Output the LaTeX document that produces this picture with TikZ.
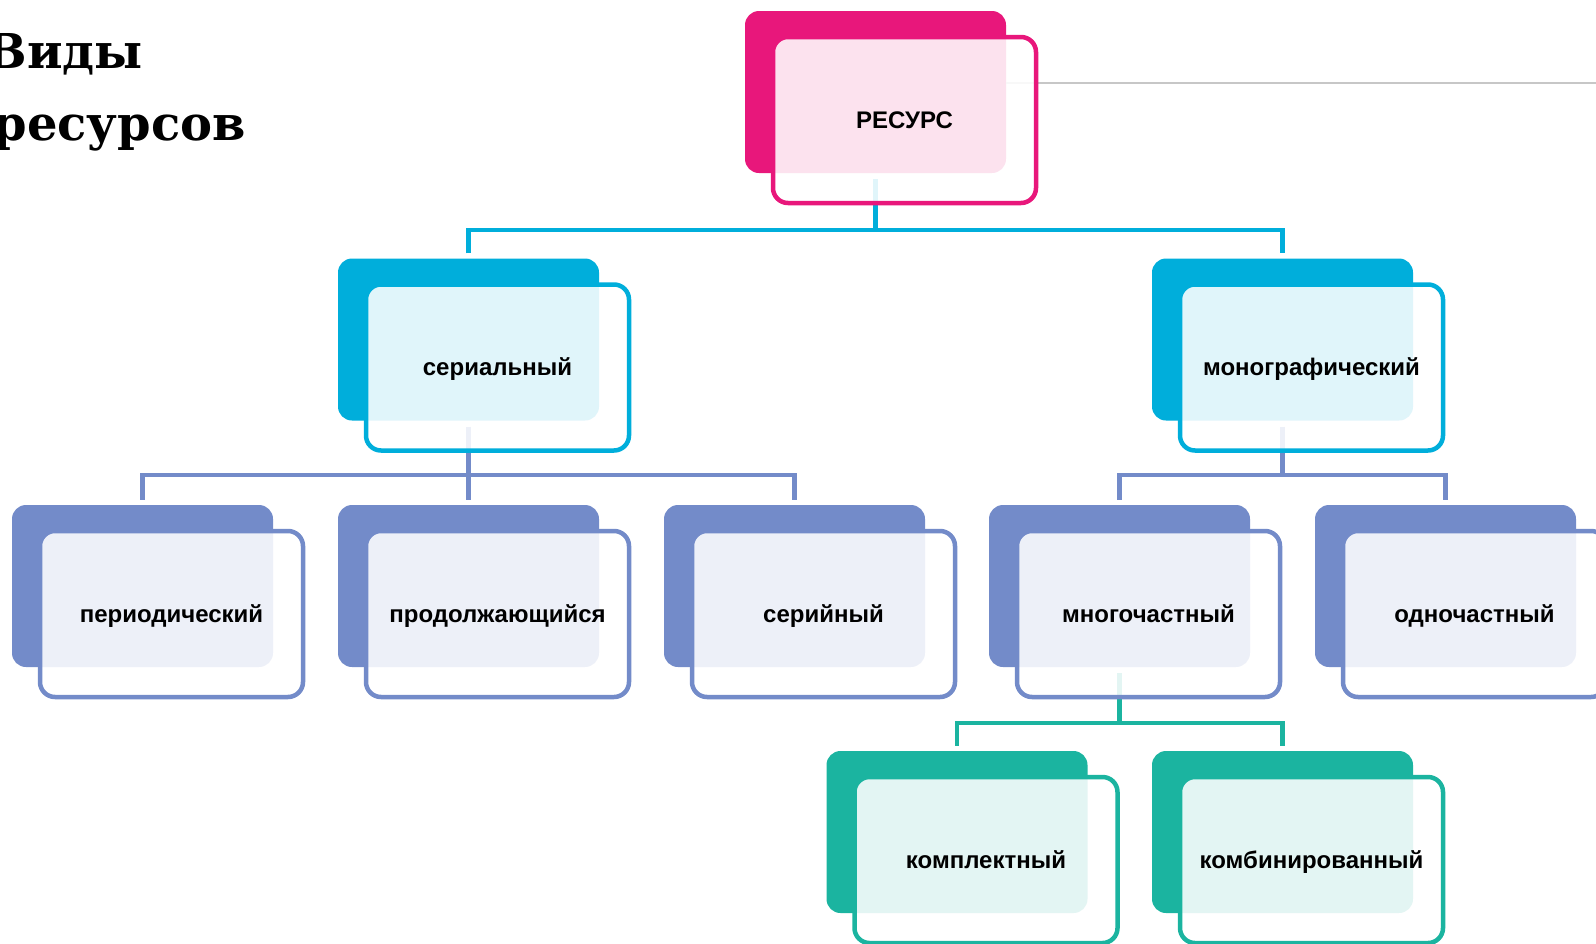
\documentclass[tikz,border=0pt]{standalone}
\usepackage{fontspec}
\setmainfont{Liberation Sans}
\newfontfamily\titlefont{DejaVu Serif}
\definecolor{cpink}{HTML}{E8177B}
\definecolor{ccyan}{HTML}{00AEDB}
\definecolor{cperi}{HTML}{738BC9}
\definecolor{cteal}{HTML}{1BB4A0}
\tikzset{
  backbox/.style={rectangle, rounded corners=14pt, minimum width=261pt, minimum height=162pt, inner sep=0pt, draw=none, fill=#1},
  frontbox/.style={rectangle, rounded corners=15pt, minimum width=263pt, minimum height=166pt, inner sep=0pt, draw=#1, line width=4.5pt, fill=white, fill opacity=0.88, draw opacity=1, text opacity=1, font=\fontsize{24}{28}\selectfont\bfseries, text height=16pt, text depth=0pt},
  cline/.style={draw=#1, line width=4.5pt},
  titletext/.style={anchor=base east, inner sep=0pt, font=\titlefont\bfseries\fontsize{48}{56}\selectfont},
}
\begin{document}
\begin{tikzpicture}[x=1pt,y=-1pt]
\useasboundingbox (0,0) rectangle (1596,943);
\clip (0,0) rectangle (1596,943);

% title
\node[titletext] (t1) at (143,68) {Виды};
\node[titletext] (t2) at (246,140) {ресурсов};

% back boxes
\node[backbox=cpink] (res-b) at (875.5,92) {};
\node[backbox=ccyan] (ser-b) at (468.5,339.5) {};
\node[backbox=ccyan] (mon-b) at (1282.5,339.5) {};
\node[backbox=cperi] (per-b) at (142.5,586) {};
\node[backbox=cperi] (pro-b) at (468.5,586) {};
\node[backbox=cperi] (sei-b) at (794.5,586) {};
\node[backbox=cperi] (mno-b) at (1119.5,586) {};
\node[backbox=cperi] (odn-b) at (1445.5,586) {};
\node[backbox=cteal] (kpl-b) at (957,832) {};
\node[backbox=cteal] (kmb-b) at (1282.5,832) {};

% gray rule
\draw[draw=black!22, line width=1.5pt] ([yshift=9pt]res-b.east) -- ++(620,0);

% connectors
\coordinate (j1) at (875.5,230);
\coordinate (j2) at (468.5,475);
\coordinate (j3) at (1282.5,475);
\coordinate (j4) at (1119.5,723);
\draw[cline=ccyan] ([yshift=-6pt]res-b.south) -- (j1);
\draw[cline=ccyan] ([yshift=5pt]ser-b.north) |- (j1) -| ([yshift=5pt]mon-b.north);
\draw[cline=cperi] ([yshift=-6pt]ser-b.south) -- (j2) -- ([yshift=5pt]pro-b.north);
\draw[cline=cperi] ([yshift=5pt]per-b.north) |- (j2) -| ([yshift=5pt]sei-b.north);
\draw[cline=cperi] ([yshift=-6pt]mon-b.south) -- (j3);
\draw[cline=cperi] ([yshift=5pt]mno-b.north) |- (j3) -| ([yshift=5pt]odn-b.north);
\draw[cline=cteal] ([yshift=-6pt]mno-b.south) -- (j4);
\draw[cline=cteal] ([yshift=5pt]kpl-b.north) |- (j4) -| ([yshift=5pt]kmb-b.north);

% front boxes
\node[frontbox=cpink] (res) at (904.5,120) {РЕСУРС};
\node[frontbox=ccyan] (ser) at (497.5,367.5) {сериальный};
\node[frontbox=ccyan] (mon) at (1311.5,367.5) {монографический};
\node[frontbox=cperi] (per) at (171.5,614) {периодический};
\node[frontbox=cperi] (pro) at (497.5,614) {продолжающийся};
\node[frontbox=cperi] (sei) at (823.5,614) {серийный};
\node[frontbox=cperi] (mno) at (1148.5,614) {многочастный};
\node[frontbox=cperi] (odn) at (1474.5,614) {одночастный};
\node[frontbox=cteal] (kpl) at (986,860) {комплектный};
\node[frontbox=cteal] (kmb) at (1311.5,860) {комбинированный};
\end{tikzpicture}
\end{document}
